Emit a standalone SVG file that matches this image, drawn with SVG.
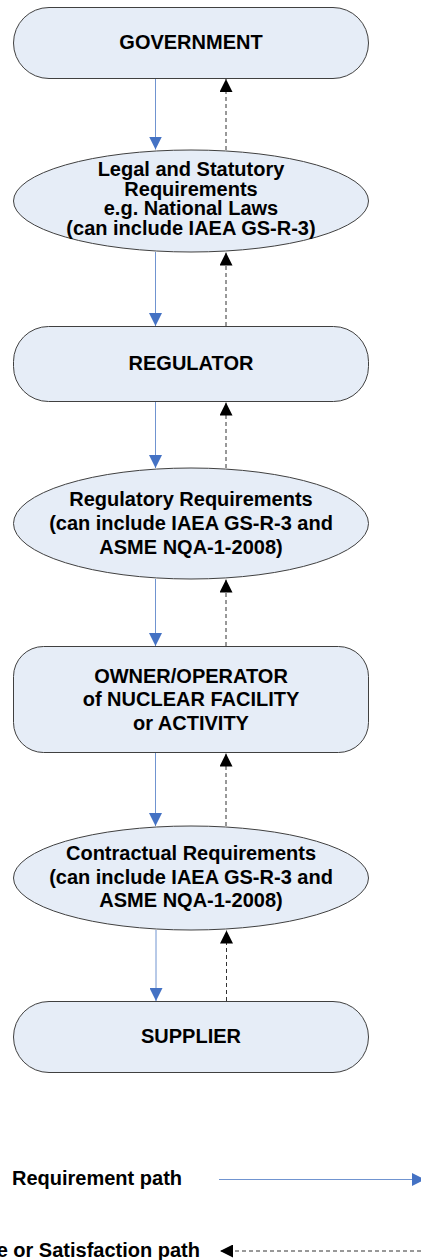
<svg xmlns="http://www.w3.org/2000/svg" width="421" height="1260" viewBox="0 0 421 1260">
<defs>
<style>
.node{fill:#E6EDF7;stroke:#404040;stroke-width:1}
.t{font-family:"Liberation Sans",Arial,sans-serif;font-weight:bold;font-size:20px;fill:#000;text-anchor:middle}
.lt{font-family:"Liberation Sans",Arial,sans-serif;font-weight:bold;font-size:20px;fill:#000}
.req{stroke:#7094D0;stroke-width:1;fill:none;marker-end:url(#blue)}
.sat{stroke:#333;stroke-width:1;fill:none;stroke-dasharray:4 3;marker-end:url(#black)}
</style>
<marker id="blue" viewBox="0 0 13 13" refX="13" refY="6.5" markerWidth="13" markerHeight="13" markerUnits="userSpaceOnUse" orient="auto">
<path d="M0,0 L13,6.5 L0,13 Z" fill="#4472C4"/>
</marker>
<marker id="black" viewBox="0 0 13 13" refX="13" refY="6.5" markerWidth="13" markerHeight="13" markerUnits="userSpaceOnUse" orient="auto">
<path d="M0,0 L13,6.5 L0,13 Z" fill="#000"/>
</marker>
</defs>
<rect width="421" height="1260" fill="#fff"/>
<g id="connectors">
<line class="req" x1="155.5" y1="78" x2="155.5" y2="149.5"/>
<line class="sat" x1="226" y1="150" x2="226" y2="79"/>
<line class="req" x1="155.5" y1="252" x2="155.5" y2="326"/>
<line class="sat" x1="226" y1="326" x2="226" y2="252.5"/>
<line class="req" x1="155.5" y1="402" x2="155.5" y2="468"/>
<line class="sat" x1="226" y1="468" x2="226" y2="402.5"/>
<line class="req" x1="155.5" y1="579" x2="155.5" y2="646"/>
<line class="sat" x1="226" y1="646" x2="226" y2="579.5"/>
<line class="req" x1="155.5" y1="753" x2="155.5" y2="826"/>
<line class="sat" x1="226" y1="826" x2="226" y2="753.5"/>
<line class="req" x1="156" y1="930" x2="156" y2="1001"/>
<line class="sat" x1="226.5" y1="1001" x2="226.5" y2="930.5"/>
</g>
<g id="government">
<rect class="node" x="13.5" y="7.5" width="355" height="71" rx="35.5" ry="35.5"/>
<text class="t" x="191" y="49">GOVERNMENT</text>
</g>
<g id="legal">
<ellipse class="node" cx="191" cy="201" rx="177.5" ry="51"/>
<text class="t" x="191" y="176">Legal and Statutory</text>
<text class="t" x="191" y="195.5">Requirements</text>
<text class="t" x="191" y="215">e.g. National Laws</text>
<text class="t" x="191" y="234.5">(can include IAEA GS-R-3)</text>
</g>
<g id="regulator">
<rect class="node" x="13.5" y="326.5" width="355" height="75" rx="35" ry="35"/>
<text class="t" x="191" y="370">REGULATOR</text>
</g>
<g id="regreq">
<ellipse class="node" cx="191" cy="523.5" rx="177.5" ry="55.5"/>
<text class="t" x="191" y="506">Regulatory Requirements</text>
<text class="t" x="191" y="530">(can include IAEA GS-R-3 and</text>
<text class="t" x="191" y="553.5">ASME NQA-1-2008)</text>
</g>
<g id="owner">
<rect class="node" x="13.5" y="646.5" width="355" height="106" rx="30" ry="30"/>
<text class="t" x="191" y="682.5">OWNER/OPERATOR</text>
<text class="t" x="191" y="706">of NUCLEAR FACILITY</text>
<text class="t" x="191" y="730">or ACTIVITY</text>
</g>
<g id="contract">
<ellipse class="node" cx="191" cy="878" rx="177.5" ry="52"/>
<text class="t" x="191" y="860">Contractual Requirements</text>
<text class="t" x="191" y="883.5">(can include IAEA GS-R-3 and</text>
<text class="t" x="191" y="907">ASME NQA-1-2008)</text>
</g>
<g id="supplier">
<rect class="node" x="13.5" y="1001.5" width="355" height="71" rx="35.5" ry="35.5"/>
<text class="t" x="191" y="1043">SUPPLIER</text>
</g>
<g id="legend">
<text class="lt" x="12" y="1185">Requirement path</text>
<line class="req" x1="219" y1="1179.5" x2="425" y2="1179.5"/>
<text class="lt" x="200" y="1257" text-anchor="end">e or Satisfaction path</text>
<line class="sat" x1="421" y1="1251" x2="220" y2="1251"/>
</g>
</svg>
